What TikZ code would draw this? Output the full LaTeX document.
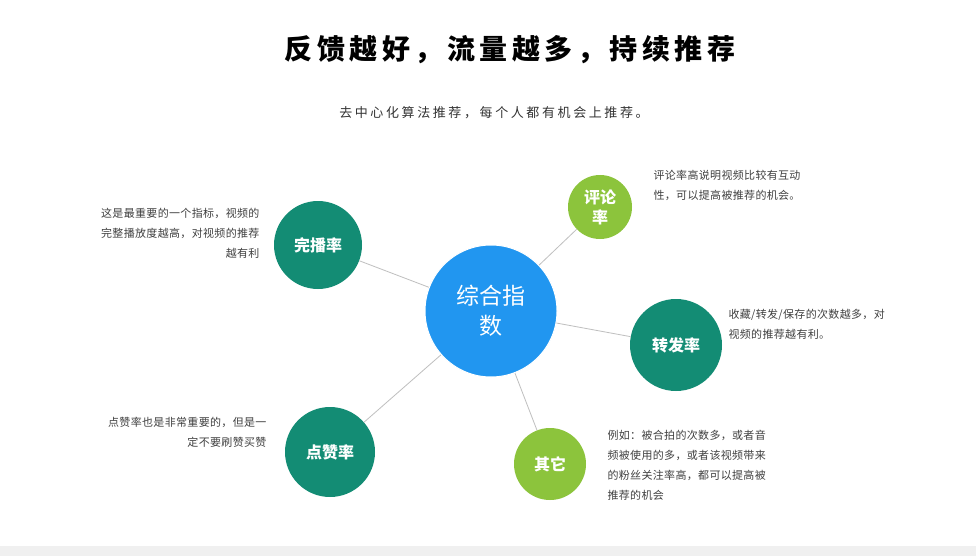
\documentclass[tikz,border=0pt]{standalone}
\usepackage{fontspec}
\setmainfont{Noto Sans CJK SC}
\newfontfamily\spaced[LetterSpace=20]{Noto Sans CJK SC}
\newfontfamily\spacedb[LetterSpace=16]{Noto Sans CJK SC}
\newfontfamily\notefont[LetterSpace=3]{Noto Sans CJK SC}
\definecolor{hubblue}{HTML}{2196F0}
\definecolor{tealc}{HTML}{138C74}
\definecolor{limec}{HTML}{8CC43C}
\begin{document}
\begin{tikzpicture}[x=1pt,y=-1pt,
  hub/.style={circle,fill=hubblue,text=white,minimum size=132pt,inner sep=0pt,font=\fontsize{23}{30}\selectfont,align=center,draw=white,line width=1pt},
  teal/.style={circle,fill=tealc,text=white,inner sep=0pt,font=\fontsize{16}{20}\selectfont\bfseries,align=center},
  lime/.style={circle,fill=limec,text=white,inner sep=0pt,font=\fontsize{16}{20}\selectfont\bfseries,align=center},
  note/.style={font=\notefont\fontsize{11}{20}\selectfont,text=black!75},
  link/.style={draw=black!25,line width=0.8pt}]
\fill[white] (0,0) rectangle (976,556);
\fill[black!6] (0,546) rectangle (976,556);
\node[font=\spacedb\fontsize{28}{32}\selectfont\bfseries] (title) at (510,50) {反馈越好，流量越多，持续推荐};
\node[font=\spaced\fontsize{13}{15}\selectfont,text=black!80] (sub) at (494,113) {去中心化算法推荐，每个人都有机会上推荐。};
\node[hub] (c) at (491,311) {综合指\\数};
\node[teal,minimum size=88pt] (a) at (318,245) {完播率};
\node[lime,minimum size=64pt] (b) at (600,207) {评论\\率};
\node[teal,minimum size=92pt] (d) at (676,345) {转发率};
\node[teal,minimum size=90pt] (e) at (330,452) {点赞率};
\node[lime,minimum size=72pt] (f) at (550,464) {其它};
\foreach \n in {a,b,d,e,f} \path[link] (c) -- (\n);
\node[note,align=right,anchor=north east] (ta) at (263,205) {这是最重要的一个指标，视频的\\完整播放度越高，对视频的推荐\\越有利};
\node[note,align=left,anchor=north west] (tb) at (650,167) {评论率高说明视频比较有互动\\性，可以提高被推荐的机会。};
\node[note,align=left,anchor=north west] (td) at (725,306) {收藏/转发/保存的次数越多，对\\视频的推荐越有利。};
\node[note,align=right,anchor=north east] (te) at (270,414) {点赞率也是非常重要的，但是一\\定不要刷赞买赞};
\node[note,align=left,anchor=north west] (tf) at (604,427) {例如：被合拍的次数多，或者音\\频被使用的多，或者该视频带来\\的粉丝关注率高，都可以提高被\\推荐的机会};
\end{tikzpicture}
\end{document}
